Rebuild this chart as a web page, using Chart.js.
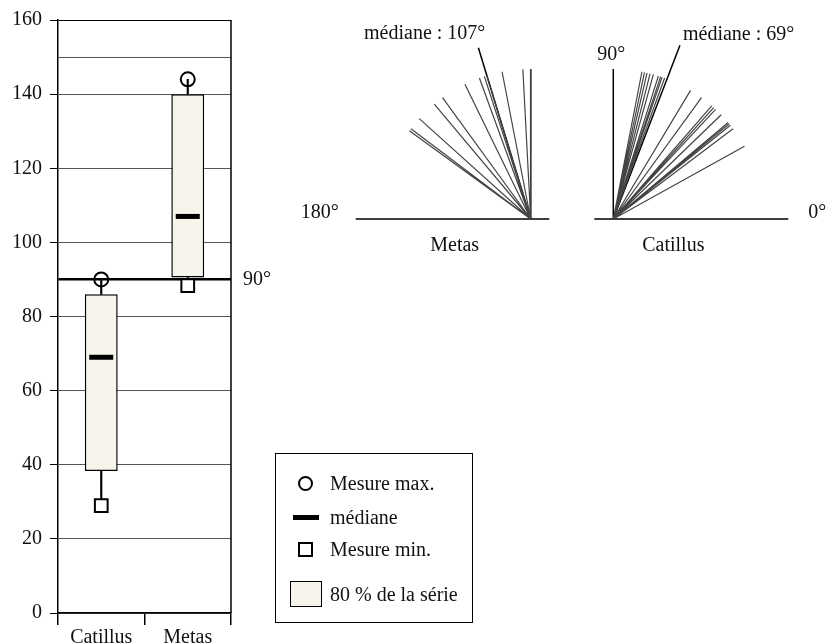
<!DOCTYPE html>
<html>
<head>
<meta charset="utf-8">
<script src="https://cdn.jsdelivr.net/npm/chart.js@4.4.1/dist/chart.umd.min.js"></script>
<style>
  body { margin: 0; background: #fff; width: 828px; height: 643px; position: relative; overflow: hidden;
         font-family: "Liberation Serif", "DejaVu Serif", serif; color: #111; }
  #box { position: absolute; left: 0; top: 0; }
  #fans { position: absolute; left: 290px; top: 0; }
  #legend { position: absolute; left: 275px; top: 453px; width: 196px; height: 168px; border: 1.5px solid #000; }
  #legend .txt { position: absolute; left: 54px; font-size: 20px; line-height: 20px; transform: translateY(-50%); white-space: nowrap; }
  #legend .sym { position: absolute; box-sizing: border-box; }
</style>
</head>
<body>
<canvas id="box" width="290" height="643"></canvas>
<canvas id="fans" width="538" height="300"></canvas>
<div id="legend">
  <div class="sym" style="left:22px;top:22px;width:15px;height:15px;border:2px solid #000;border-radius:50%"></div>
  <div class="txt" style="top:29px">Mesure max.</div>
  <div class="sym" style="left:17px;top:61px;width:26px;height:5px;background:#000"></div>
  <div class="txt" style="top:63px">médiane</div>
  <div class="sym" style="left:22px;top:88px;width:15px;height:15px;border:2px solid #000"></div>
  <div class="txt" style="top:95px">Mesure min.</div>
  <div class="sym" style="left:14px;top:127px;width:32px;height:26px;border:1.5px solid #000;background:#f7f4eb"></div>
  <div class="txt" style="top:140px">80 % de la série</div>
</div>
<script>
// box plot values (degrees)
const categories = ['Catillus', 'Metas'];
const boxLow = [38.3, 90.5];
const boxHigh = [86, 140];
const medians = [69, 107];
const maxValues = [90, 144];
const minValues = [29, 88.3];
const yTicks = [0, 20, 40, 60, 80, 100, 120, 140, 160];
const plainLines = [150];
const rightAngle = 90;

// individual measures for the fans (degrees)
const metasAngles = [90, 93, 101, 107, 108, 110, 116, 126, 130, 138, 143, 144];
const catillusAngles = [29, 37, 38.7, 39.4, 40, 44, 47, 48, 49, 54, 59, 70, 71, 71.6, 72.5, 74.5, 75.8, 77, 78, 79];
const fanMedians = { Metas: 107, Catillus: 69 };

const FONT = '"Liberation Serif", "DejaVu Serif", serif';
const FS = 20;
const cream = '#f7f4eb';

// ---------- left chart ----------
const boxExtras = {
  id: 'boxExtras',
  afterDatasetsDraw(chart) {
    const { ctx, chartArea: a, scales } = chart;
    ctx.save();
    ctx.strokeStyle = '#000';
    ctx.lineWidth = 1.5;
    ctx.beginPath();
    ctx.moveTo(a.right, a.top);
    ctx.lineTo(a.right, a.bottom);
    ctx.stroke();
    ctx.fillStyle = '#111';
    ctx.font = FS + 'px ' + FONT;
    ctx.textBaseline = 'middle';
    ctx.fillText(rightAngle + '°', a.right + 12, scales.y.getPixelForValue(rightAngle));
    ctx.restore();
  }
};

new Chart(document.getElementById('box'), {
  type: 'bar',
  data: {
    labels: categories,
    datasets: [
      {
        type: 'line', label: 'max', data: maxValues, showLine: false, order: 0,
        pointStyle: 'circle', pointRadius: 7, pointBorderWidth: 2,
        pointBorderColor: '#000', pointBackgroundColor: 'rgba(0,0,0,0)'
      },
      {
        type: 'line', label: 'min', data: minValues, showLine: false, order: 0,
        pointStyle: 'rect', pointRadius: 9, pointBorderWidth: 2,
        pointBorderColor: '#000', pointBackgroundColor: '#fff'
      },
      {
        type: 'line', label: 'médiane', data: medians, showLine: false, order: 0,
        pointStyle: 'line', pointRadius: 12, pointBorderWidth: 5, pointBorderColor: '#000'
      },
      {
        label: '80 %', data: categories.map((c, i) => [boxLow[i], boxHigh[i]]), order: 1,
        backgroundColor: cream, borderColor: '#000', borderWidth: 1.5, borderSkipped: false,
        grouped: false, categoryPercentage: 1, barPercentage: 0.38
      },
      {
        label: 'whisker up', data: categories.map((c, i) => [boxHigh[i], maxValues[i]]), order: 2,
        backgroundColor: '#000', barThickness: 1.5, grouped: false
      },
      {
        label: 'whisker down', data: categories.map((c, i) => [minValues[i], boxLow[i]]), order: 2,
        backgroundColor: '#000', barThickness: 1.5, grouped: false
      }
    ]
  },
  options: {
    responsive: false,
    animation: false,
    layout: { padding: { top: 20, right: 59, bottom: 0, left: 0 } },
    plugins: { legend: { display: false }, tooltip: { enabled: false } },
    scales: {
      x: {
        offset: true,
        grid: { offset: true, drawOnChartArea: false, tickLength: 12, color: '#000', lineWidth: 1.5 },
        border: { color: '#000', width: 1.5 },
        ticks: { color: '#111', font: { family: FONT, size: FS }, padding: 1 },
        afterFit: s => { s.height = 30; }
      },
      y: {
        min: 0, max: 160,
        afterBuildTicks: s => {
          s.ticks = [...yTicks, ...plainLines, rightAngle].sort((a, b) => a - b).map(v => ({ value: v }));
        },
        afterFit: s => { s.width = 58; },
        ticks: {
          color: '#111', font: { family: FONT, size: FS }, padding: 8,
          callback: v => yTicks.includes(v) ? v : ''
        },
        grid: {
          color: c => (c.tick && (c.tick.value === rightAngle || c.tick.value === 160)) ? '#000' : '#555',
          lineWidth: c => (c.tick && c.tick.value === rightAngle) ? 2.5 : 1,
          tickColor: c => (c.tick && yTicks.includes(c.tick.value)) ? '#000' : 'rgba(0,0,0,0)',
          tickLength: 8
        },
        border: { color: '#000', width: 1.5 }
      }
    }
  },
  plugins: [boxExtras]
});

// ---------- fans ----------
const RAY = 150;
const fanLayout = {
  Metas: { ox: 240.7, oy: 81, left: 175, right: 18.6, medLen: 179 },
  Catillus: { ox: 323.3, oy: 81, left: 19, right: 175, medLen: 186 }
};
const rad = d => d * Math.PI / 180;
const gap = { x: null, y: null };

function rays(name, angles, len) {
  const f = fanLayout[name];
  const pts = [];
  angles.forEach(a => {
    pts.push({ x: f.ox, y: f.oy });
    pts.push({ x: f.ox + len * Math.cos(rad(a)), y: f.oy + len * Math.sin(rad(a)) });
    pts.push(gap);
  });
  return pts;
}
function axes(name) {
  const f = fanLayout[name];
  return [
    { x: f.ox - f.left, y: f.oy }, { x: f.ox + f.right, y: f.oy }, gap,
    { x: f.ox, y: f.oy }, { x: f.ox + RAY * Math.cos(rad(rightAngle)), y: f.oy + RAY * Math.sin(rad(rightAngle)) }
  ];
}

const fanLabels = {
  id: 'fanLabels',
  afterDatasetsDraw(chart) {
    const { ctx, scales: { x, y } } = chart;
    const M = fanLayout.Metas, C = fanLayout.Catillus;
    ctx.save();
    ctx.fillStyle = '#111';
    ctx.font = FS + 'px ' + FONT;
    ctx.textBaseline = 'middle';
    ctx.textAlign = 'right';
    ctx.fillText('180°', x.getPixelForValue(M.ox - M.left - 17), y.getPixelForValue(M.oy) - 6);
    ctx.textAlign = 'left';
    ctx.fillText('0°', x.getPixelForValue(C.ox + C.right + 20), y.getPixelForValue(C.oy) - 6);
    ctx.textAlign = 'center';
    ctx.fillText('90°', x.getPixelForValue(C.ox - 2), y.getPixelForValue(C.oy + RAY) - 14);
    ctx.fillText('Metas', x.getPixelForValue(M.ox - 76), y.getPixelForValue(M.oy) + 27);
    ctx.fillText('Catillus', x.getPixelForValue(C.ox + 60), y.getPixelForValue(C.oy) + 27);
    const mEnd = { x: M.ox + M.medLen * Math.cos(rad(fanMedians.Metas)), y: M.oy + M.medLen * Math.sin(rad(fanMedians.Metas)) };
    const cEnd = { x: C.ox + C.medLen * Math.cos(rad(fanMedians.Catillus)), y: C.oy + C.medLen * Math.sin(rad(fanMedians.Catillus)) };
    ctx.textAlign = 'right';
    ctx.fillText('médiane : ' + fanMedians.Metas + '°', x.getPixelForValue(mEnd.x) + 7, y.getPixelForValue(mEnd.y) - 14);
    ctx.textAlign = 'left';
    ctx.fillText('médiane : ' + fanMedians.Catillus + '°', x.getPixelForValue(cEnd.x) + 3, y.getPixelForValue(cEnd.y) - 11);
    ctx.restore();
  }
};

const lineDefaults = { showLine: true, pointRadius: 0, spanGaps: false, borderJoinStyle: 'round', borderCapStyle: 'butt' };

new Chart(document.getElementById('fans'), {
  type: 'scatter',
  data: {
    datasets: [
      { ...lineDefaults, label: 'Metas', data: rays('Metas', metasAngles, RAY), borderColor: '#444', borderWidth: 1.2 },
      { ...lineDefaults, label: 'Catillus', data: rays('Catillus', catillusAngles, RAY), borderColor: '#444', borderWidth: 1.2 },
      { ...lineDefaults, label: 'médiane Metas', data: rays('Metas', [fanMedians.Metas], fanLayout.Metas.medLen), borderColor: '#000', borderWidth: 1.5 },
      { ...lineDefaults, label: 'médiane Catillus', data: rays('Catillus', [fanMedians.Catillus], fanLayout.Catillus.medLen), borderColor: '#000', borderWidth: 1.5 },
      { ...lineDefaults, label: 'axes Metas', data: axes('Metas'), borderColor: '#000', borderWidth: 1.5 },
      { ...lineDefaults, label: 'axes Catillus', data: axes('Catillus'), borderColor: '#000', borderWidth: 1.5 }
    ]
  },
  options: {
    responsive: false,
    animation: false,
    layout: { padding: 0 },
    plugins: { legend: { display: false }, tooltip: { enabled: false } },
    scales: {
      x: { type: 'linear', min: 0, max: 538, display: false },
      y: { type: 'linear', min: 0, max: 300, display: false }
    }
  },
  plugins: [fanLabels]
});
</script>
</body>
</html>
